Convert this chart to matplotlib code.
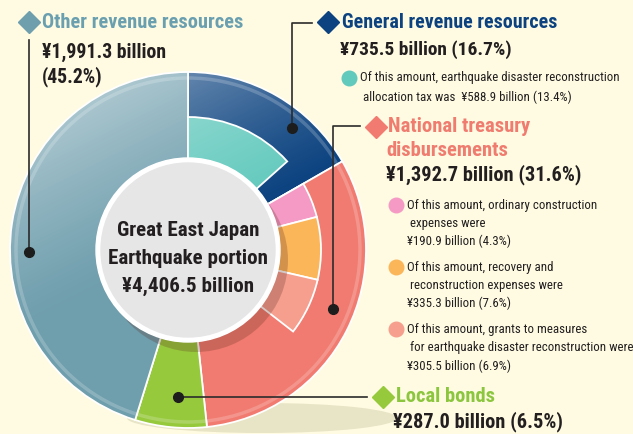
import numpy as np
import matplotlib.pyplot as plt
from matplotlib import font_manager
from matplotlib.patches import Circle, Ellipse

W, H = 633, 434

# outer ring: share of the Great East Japan Earthquake portion (%)
outer_labels = ['General revenue resources', 'National treasury\ndisbursements',
                'Local bonds', 'Other revenue resources']
outer_values = [16.7, 31.6, 6.5, 45.2]
outer_amounts = ['¥735.5 billion (16.7%)', '¥1,392.7 billion (31.6%)',
                 '¥287.0 billion (6.5%)', '¥1,991.3 billion\n(45.2%)']
outer_colors = ['#0b427f', '#f17b70', '#97c93d', '#6f9ead']
title_colors = ['#0b427f', '#f07c70', '#8cc63f', '#6a9fb0']

# inner ring: breakdown inside general revenue and national treasury (%)
inner_values = [13.4, 16.7 - 13.4, 4.3, 7.6, 6.9]
inner_colors = ['#62c9bd', 'none', '#f49ac4', '#fbb65a', '#f69f8e']
inner_notes = [
    'Of this amount, earthquake disaster reconstruction\n allocation tax was  ¥588.9 billion (13.4%)',
    None,
    'Of this amount, ordinary construction\n expenses were\n¥190.9 billion (4.3%)',
    'Of this amount, recovery and\n reconstruction expenses were\n¥335.3 billion (7.6%)',
    'Of this amount, grants to measures\n for earthquake disaster reconstruction were\n¥305.5 billion (6.9%)',
]

total_label = 'Great East Japan\nEarthquake portion\n¥4,406.5 billion'

# pick a narrow font if we have one
names = {f.name for f in font_manager.fontManager.ttflist}
narrow = 'DejaVu Sans'
for cand in ['Roboto Condensed', 'IBM Plex Sans Condensed', 'Fira Sans Condensed']:
    if cand in names:
        narrow = cand
        break
plt.rcParams['font.family'] = [narrow, 'DejaVu Sans']

bg = '#fefbe2'
fig = plt.figure(figsize=(W / 100, H / 100), dpi=100, facecolor=bg)
ax = fig.add_axes([0, 0, 1, 1])
ax.set_facecolor(bg)
renderer = fig.canvas.get_renderer()


def Y(y):
    # pixel row from top -> data y
    return H - y


def put(x, y, s, width, **kw):
    # write text and scale its size so it spans about `width` pixels
    t = ax.text(x, Y(y), s, ha='left', va='center', **kw)
    for _ in range(2):
        w = t.get_window_extent(renderer).width
        t.set_fontsize(t.get_fontsize() * width / w)
    return t


cx, cy = 188, Y(250)
r_out, r_mid, r_hole = 178, 133, 88

# soft shadow under the donut
ax.add_patch(Ellipse((262, Y(418)), 270, 30, color='#e8e4c6', zorder=0, lw=0))

ax.pie([v / 100 for v in outer_values], colors=outer_colors, startangle=90,
       counterclock=False, center=(cx, cy), radius=r_out, normalize=False,
       wedgeprops=dict(width=r_out - r_hole, edgecolor='white', linewidth=1.3))
ax.pie([v / 100 for v in inner_values], colors=inner_colors, startangle=90,
       counterclock=False, center=(cx, cy), radius=r_mid, normalize=False,
       wedgeprops=dict(width=r_mid - r_hole, edgecolor='white', linewidth=1.3))
# gap wedge should not show an edge
ax.patches[-4].set_edgecolor('none')

# light sheen from the top-left over the ring
gx = np.arange(cx - r_out, cx + r_out + 1)
gy = np.arange(cy - r_out, cy + r_out + 1)
GX, GY = np.meshgrid(gx, gy)
proj = ((GX - cx) * -0.45 + (GY - cy) * 0.89) / r_out
sheen = np.zeros(GX.shape + (4,))
sheen[..., :3] = 1.0
sheen[..., 3] = 0.42 * np.clip(proj, 0, 1) ** 1.3
img = ax.imshow(sheen, extent=(gx[0], gx[-1], gy[0], gy[-1]), origin='lower',
                zorder=3, interpolation='bilinear')
img.set_clip_path(Circle((cx, cy), r_out, transform=ax.transData))

# rim highlight
ax.add_patch(Circle((cx, cy), r_out - 6, fill=False, ec='white', lw=2.5, alpha=0.2, zorder=3))

# centre disc with drop shadow
ax.add_patch(Circle((cx + 8, cy - 10), r_hole + 4, color='#5a2a20', alpha=0.25, lw=0, zorder=4))
ax.add_patch(Circle((cx, cy), r_hole + 4, color='white', zorder=5))
ax.add_patch(Circle((cx, cy), r_hole - 1, color='#e6e6e6', zorder=6))

centre = total_label.split('\n')
t = ax.text(cx, Y(259), centre[1], ha='center', va='center', fontsize=15,
            fontweight='bold', color='#231f20', zorder=7)
csize = t.get_fontsize() * 160 / t.get_window_extent(renderer).width
t.set_fontsize(csize)
for yy, s in [(231, centre[0]), (286, centre[2])]:
    ax.text(cx, Y(yy), s, ha='center', va='center', fontsize=csize,
            fontweight='bold', color='#231f20', zorder=7)

line_kw = dict(color='#2b2b2b', lw=1.2, zorder=8)
dot_kw = dict(marker='o', color='#1d1d1d', markersize=7, zorder=9)
dia_kw = dict(marker='D', markersize=11.5, zorder=9)
head_kw = dict(fontweight='bold')
amt_kw = dict(fontweight='bold', color='#231f20')

# Other revenue resources
ax.plot([29, 29], [Y(40), Y(252)], **line_kw)
ax.plot(29, Y(252), **dot_kw)
ax.plot(29, Y(22), color=outer_colors[3], **dia_kw)
put(42, 22, outer_labels[3], 201, color=title_colors[3], **head_kw)
a1, a2 = outer_amounts[3].split('\n')
t = put(42, 52, a1, 124, **amt_kw)
ax.text(42, Y(77), a2, ha='left', va='center', fontsize=t.get_fontsize(), **amt_kw)

# General revenue resources
ax.plot([292, 292, 312], [Y(128), Y(23), Y(23)], **line_kw)
ax.plot(292, Y(128), **dot_kw)
ax.plot(328, Y(22), color=outer_colors[0], **dia_kw)
put(342, 22, outer_labels[0], 215, color=title_colors[0], **head_kw)
put(340, 50, outer_amounts[0], 172, **amt_kw)

# National treasury disbursements
ax.plot([333, 333, 360], [Y(309), Y(126), Y(126)], **line_kw)
ax.plot(333, Y(309), **dot_kw)
ax.plot(376, Y(127), color=outer_colors[1], **dia_kw)
n1, n2 = outer_labels[1].split('\n')
t = put(388, 127, n1, 142, color=title_colors[1], **head_kw)
ax.text(386, Y(150), n2, ha='left', va='center', fontsize=t.get_fontsize(),
        color=title_colors[1], **head_kw)
put(386, 175, outer_amounts[1], 196, **amt_kw)

# Local bonds
ax.plot([178, 367], [Y(397), Y(397)], **line_kw)
ax.plot(178, Y(397), **dot_kw)
ax.plot(383, Y(397), color=outer_colors[2], **dia_kw)
put(396, 397, outer_labels[2], 99, color=title_colors[2], **head_kw)
put(393, 422, outer_amounts[2], 170, **amt_kw)

# notes for the inner ring pieces
note_pos = [(349, [78, 97]), None, (396, [205, 223, 241]),
            (396, [267, 285, 303]), (396, [329, 347, 366])]

# one font size for all notes, small enough that every line ends by x=631
nsize = 20.0
for note, pos in zip(inner_notes, note_pos):
    if note is None:
        continue
    for s in note.split('\n'):
        t = ax.text(pos[0] + 11, 0, s, fontsize=10)
        w = t.get_window_extent(renderer).width
        nsize = min(nsize, 10 * (631 - pos[0] - 11) / w)
        t.remove()

for note, pos, col in zip(inner_notes, note_pos, inner_colors):
    if note is None:
        continue
    bx, ys = pos
    ax.plot(bx, Y(ys[0]), marker='o', color=col, markersize=10.5, zorder=9)
    for yy, s in zip(ys, note.split('\n')):
        ax.text(bx + 11, Y(yy), s, ha='left', va='center', fontsize=nsize,
                color='#231f20')

ax.set_xlim(0, W)
ax.set_ylim(0, H)
ax.set_aspect('equal')
ax.axis('off')

fig.savefig('out.png', dpi=100, facecolor=bg)
